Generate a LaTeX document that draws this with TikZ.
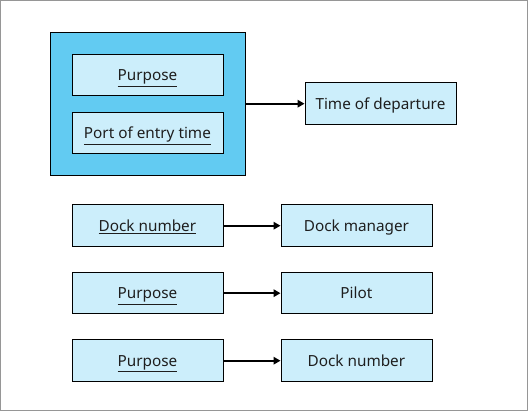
\documentclass[tikz,border=0pt]{standalone}
\usepackage{fontspec}
\setmainfont{Noto Sans}
\usetikzlibrary{arrows.meta}
\definecolor{outerblue}{RGB}{98,203,242}
\definecolor{lightblue}{RGB}{204,238,251}
\definecolor{framegray}{RGB}{150,150,150}
\definecolor{textdark}{RGB}{30,30,30}
\tikzset{
  box/.style={draw=black, line width=0.9pt, fill=lightblue, minimum width=151pt, minimum height=41.5pt, inner sep=0pt, text height=14pt, text depth=3pt, text=textdark, font=\fontsize{15.3}{17}\selectfont, anchor=north west},
  conn/.style={draw=black, line width=1.7pt, -{Triangle[length=7pt,width=7.5pt]}},
}
\begin{document}
\begin{tikzpicture}[x=1pt,y=-1pt]
\useasboundingbox (0,0) rectangle (528,411);
\draw[framegray, line width=0.8pt] (0.5,0.5) rectangle (527.5,410.5);
\node[draw=black, line width=0.9pt, fill=outerblue, minimum width=195pt, minimum height=143pt, inner sep=0pt, anchor=north west] (grp) at (50,32) {};
\node[box] (p1) at (71.5,54) {\underline{Purpose}};
\node[box] (pe) at (71.5,112) {\underline{Port of entry time}};
\node[box] (td) at (304.5,82.5) {Time of departure};
\node[box] (dn) at (71.5,204.5) {\underline{Dock number}};
\node[box] (dm) at (280.5,204.5) {Dock manager};
\node[box] (p2) at (71.5,272) {\underline{Purpose}};
\node[box] (pi) at (280.5,272) {Pilot};
\node[box] (p3) at (71.5,339.5) {\underline{Purpose}};
\node[box] (dn2) at (280.5,339.5) {Dock number};
\draw[conn] (grp.east |- td.west) -- (td.west);
\draw[conn] (dn.east) -- (dm.west);
\draw[conn] (p2.east) -- (pi.west);
\draw[conn] (p3.east) -- (dn2.west);
\end{tikzpicture}
\end{document}
